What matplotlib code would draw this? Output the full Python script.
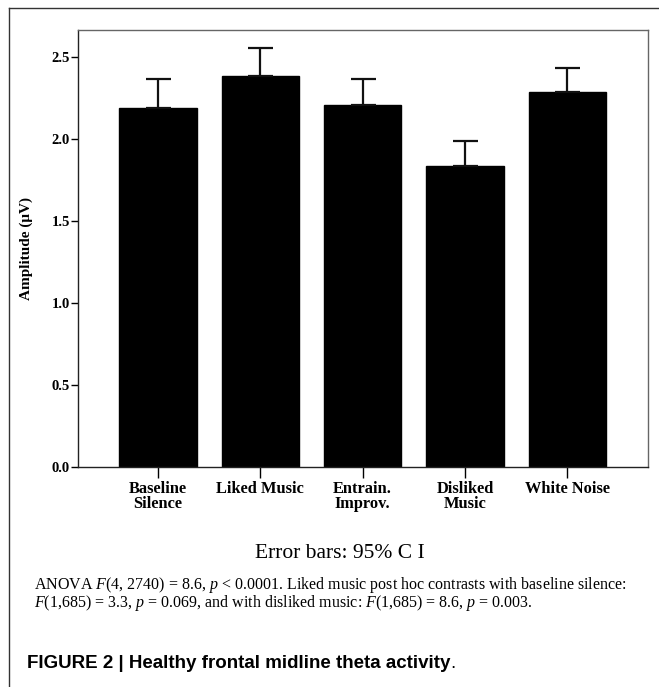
import matplotlib
matplotlib.use("Agg")
import matplotlib.pyplot as plt
import numpy as np

plt.rcParams["mathtext.fontset"] = "custom"
plt.rcParams["mathtext.it"] = "Liberation Serif:italic"
plt.rcParams["mathtext.rm"] = "Liberation Serif"

categories = ["Baseline\nSilence", "Liked Music", "Entrain.\nImprov.", "Disliked\nMusic", "White Noise"]
means = [2.19, 2.385, 2.21, 1.835, 2.29]
ci_upper = [2.365, 2.555, 2.365, 1.99, 2.435]
yticks = [0.0, 0.5, 1.0, 1.5, 2.0, 2.5]
ytick_labels = ["0.0", "0.5", "1.0", "1.5", "2.0", "2.5"]

W, H = 659, 687
fig = plt.figure(figsize=(W / 100, H / 100), dpi=100)

def fx(x):
    return x / W

def fy(y):
    return 1 - y / H

# outer frame lines
fig.add_artist(plt.Line2D([fx(9), fx(9)], [fy(8), 0], color="#333333", lw=1.0))
fig.add_artist(plt.Line2D([fx(9), 1], [fy(8), fy(8)], color="#333333", lw=1.0))

ax_l, ax_r, ax_t, ax_b = 78, 648, 30, 466.7
ax = fig.add_axes([fx(ax_l), fy(ax_b), (ax_r - ax_l) / W, (ax_b - ax_t) / H])

x = np.arange(len(categories))
err_up = np.array(ci_upper) - np.array(means)
ax.bar(x, means, width=0.757, color="black", edgecolor="black", zorder=2)
ax.errorbar(x, means, yerr=[np.zeros(len(x)), err_up], fmt="none", ecolor="#111111",
            elinewidth=1.6, capsize=9, capthick=1.6, zorder=3)

ax.set_xlim(-0.782, 4.789)
ax.set_ylim(0, 2.667)
ax.set_yticks(yticks)
ax.set_yticklabels(ytick_labels, family="Liberation Serif", fontweight="bold", fontsize=10.5)
ax.set_xticks(x)
ax.set_xticklabels(categories, family="Liberation Serif", fontweight="bold", fontsize=11.8,
                   linespacing=0.95)
ax.tick_params(axis="y", direction="out", length=5, width=1, pad=1)
ax.tick_params(axis="x", direction="out", length=8, width=1, pad=2)
for s in ["top", "right"]:
    ax.spines[s].set_color("#666666")
for s in ["left", "bottom"]:
    ax.spines[s].set_color("#222222")
for s in ax.spines.values():
    s.set_linewidth(1.0)

ax.set_ylabel("Amplitude (\u03bcV)", family="Liberation Serif", fontweight="bold", fontsize=11)
ax.yaxis.set_label_coords((33 - ax_l) / (ax_r - ax_l), 0.5)

fig.text(fx(340), fy(553), "Error bars: 95% C I", family="Liberation Serif", fontsize=15.5,
         ha="center", va="center")

fig.text(fx(34), fy(585),
         r"ANOVA $\mathit{F}$(4, 2740) = 8.6, $\mathit{p}$ < 0.0001. Liked music post hoc contrasts with baseline silence:",
         family="Liberation Serif", fontsize=11.5, ha="left", va="center")
fig.text(fx(34), fy(603),
         r"$\mathit{F}$(1,685) = 3.3, $\mathit{p}$ = 0.069, and with disliked music: $\mathit{F}$(1,685) = 8.6, $\mathit{p}$ = 0.003.",
         family="Liberation Serif", fontsize=11.5, ha="left", va="center")

t = fig.text(fx(27), fy(663), "FIGURE 2 | Healthy frontal midline theta activity",
             family=["Liberation Sans Narrow", "Liberation Sans"], fontweight="bold",
             fontsize=13.5, ha="left", va="center")
fig.canvas.draw()
bb = t.get_window_extent()
fig.text(bb.x1 / W, fy(663), ".", family=["Liberation Sans Narrow", "Liberation Sans"],
         fontsize=13.5, ha="left", va="center")

fig.savefig("out.png", dpi=100)
